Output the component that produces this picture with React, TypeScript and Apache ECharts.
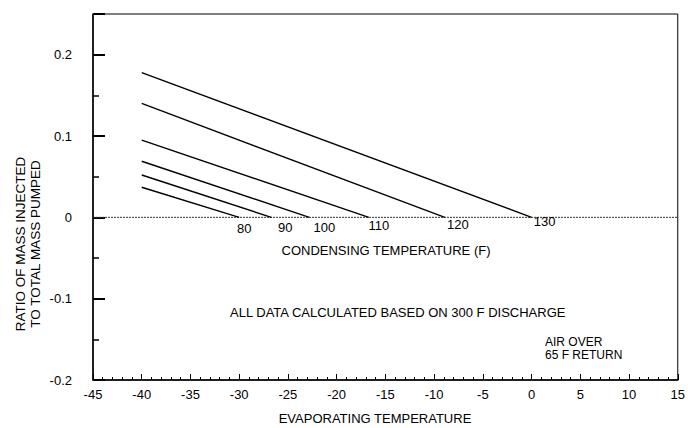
import React, { useEffect, useRef } from "react";
import * as echarts from "echarts";

// Condensing temperature of each line (F)
const condensingTemps = [80, 90, 100, 110, 120, 130];
// Evaporating temperature where each line starts (F)
const startEvap = [-40, -40, -40, -40, -40, -40];
// Ratio at the start of each line
const startRatio = [0.037, 0.052, 0.069, 0.095, 0.14, 0.178];
// Evaporating temperature where each line reaches zero (F)
const endEvap = [-30, -26.7, -22.8, -16.7, -8.9, 0];
const endRatio = [0, 0, 0, 0, 0, 0];

const xMin = -45;
const xMax = 15;
const yMin = -0.2;
const yMax = 0.25;
const yTickLabels = ["-0.2", "-0.1", "0", "0.1", "0.2"];

const FONT = "Liberation Sans";
const INK = "#000";

// label nudges (layout only)
const labelOffsets: [number, number][] = [
  [5, 11],
  [14, 10],
  [15, 10],
  [10, 8],
  [13, 7],
  [13, 4],
];

export default function App() {
  const ref = useRef<HTMLDivElement>(null);
  useEffect(() => {
    if (!ref.current) return;
    const chart = echarts.init(ref.current, undefined, { renderer: "svg" });
    const lineSeries = condensingTemps.map((t, i) => ({
      type: "line",
      name: String(t),
      symbol: "none",
      lineStyle: { color: INK, width: 1.4 },
      data: [
        [startEvap[i], startRatio[i]],
        [endEvap[i], endRatio[i]],
      ],
      z: 3,
    }));
    const labelSeries = {
      type: "scatter",
      name: "labels",
      symbolSize: 0,
      itemStyle: { color: INK, opacity: 1 },
      z: 4,
      silent: true,
      data: condensingTemps.map((t, i) => ({
        value: [endEvap[i], endRatio[i]],
        label: {
          show: true,
          position: "inside",
          formatter: String(t),
          offset: labelOffsets[i],
          fontFamily: FONT,
          fontSize: 13,
          color: INK,
          opacity: 1,
        },
      })),
    };
    chart.setOption({
      animation: false,
      backgroundColor: "#fff",
      grid: {
        left: 93,
        right: 9,
        top: 14,
        bottom: 48,
        show: true,
        borderColor: INK,
        borderWidth: 1,
      },
      xAxis: {
        type: "value",
        min: xMin,
        max: xMax,
        interval: 5,
        axisLine: { onZero: false, lineStyle: { color: INK, width: 1.5 } },
        axisTick: { inside: true, length: 6, lineStyle: { color: INK } },
        minorTick: { show: true, splitNumber: 5, length: 3, lineStyle: { color: INK } },
        splitLine: { show: false },
        axisLabel: { fontFamily: FONT, fontSize: 13, color: INK, margin: 8 },
      },
      yAxis: {
        type: "value",
        min: yMin,
        max: yMax,
        interval: 0.1,
        axisLine: { onZero: false, lineStyle: { color: INK, width: 1.5 } },
        axisTick: { inside: true, length: 12, lineStyle: { color: INK, width: 2 } },
        minorTick: { show: true, splitNumber: 2, length: 6, lineStyle: { color: INK, width: 1.5 } },
        splitLine: { show: false },
        axisLabel: {
          fontFamily: FONT,
          fontSize: 13,
          color: INK,
          margin: 21,
          formatter: (v: number) => {
            const s = String(Math.round(v * 10) / 10);
            return yTickLabels.includes(s) && Math.abs(v - yMax) > 1e-9 ? s : "";
          },
        },
      },
      series: [
        {
          type: "line",
          name: "baseline",
          symbol: "none",
          lineStyle: { color: "#333", width: 1, type: [2, 1] },
          data: [
            [xMin, 0],
            [xMax, 0],
          ],
          z: 2,
        },
        ...lineSeries,
        labelSeries,
      ],
      graphic: [
        {
          type: "text",
          x: 20,
          y: 244,
          rotation: Math.PI / 2,
          style: {
            text: "RATIO OF MASS INJECTED",
            font: `13.5px "${FONT}"`,
            fill: INK,
            align: "center",
            verticalAlign: "middle",
          },
        },
        {
          type: "text",
          x: 35,
          y: 244,
          rotation: Math.PI / 2,
          style: {
            text: "TO TOTAL MASS PUMPED",
            font: `13.5px "${FONT}"`,
            fill: INK,
            align: "center",
            verticalAlign: "middle",
          },
        },
        {
          type: "text",
          x: 386,
          y: 250,
          style: {
            text: "CONDENSING TEMPERATURE (F)",
            font: `13px "${FONT}"`,
            fill: INK,
            align: "center",
            verticalAlign: "middle",
          },
        },
        {
          type: "text",
          x: 230,
          y: 312,
          style: {
            text: "ALL DATA CALCULATED BASED ON 300 F DISCHARGE",
            font: `13px "${FONT}"`,
            fill: INK,
            align: "left",
            verticalAlign: "middle",
          },
        },
        {
          type: "text",
          x: 545,
          y: 342,
          style: {
            text: "AIR OVER",
            font: `12px "${FONT}"`,
            fill: INK,
            align: "left",
            verticalAlign: "middle",
          },
        },
        {
          type: "text",
          x: 545,
          y: 355,
          style: {
            text: "65 F RETURN",
            font: `12px "${FONT}"`,
            fill: INK,
            align: "left",
            verticalAlign: "middle",
          },
        },
        {
          type: "text",
          x: 375,
          y: 418,
          style: {
            text: "EVAPORATING TEMPERATURE",
            font: `13px "${FONT}"`,
            fill: INK,
            align: "center",
            verticalAlign: "middle",
          },
        },
      ],
    });
    return () => chart.dispose();
  }, []);
  return (
    <div
      ref={ref}
      style={{ position: "fixed", left: 0, top: 0, width: 688, height: 428 }}
    />
  );
}
